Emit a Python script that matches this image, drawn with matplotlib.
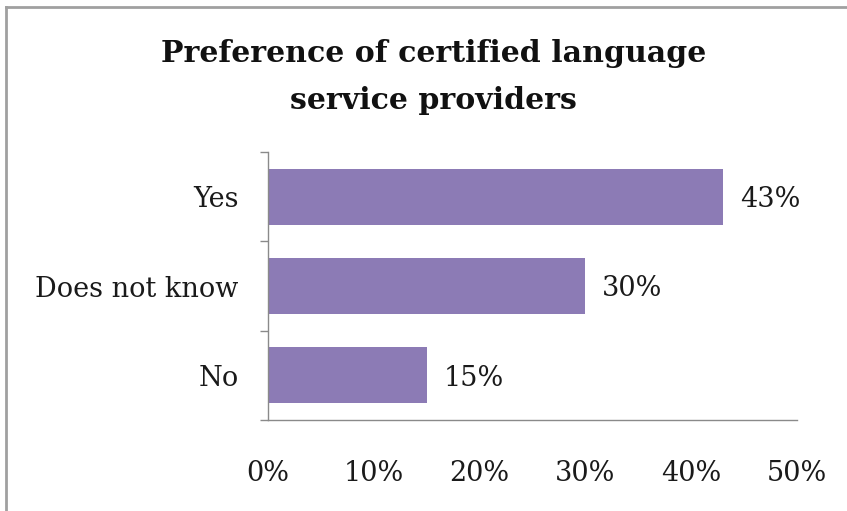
import matplotlib
matplotlib.use("Agg")
import matplotlib.pyplot as plt
from matplotlib.lines import Line2D

# Survey answers and their shares (percent)
categories = ["Yes", "Does not know", "No"]
shares = [43, 30, 15]
x_ticks = [0, 10, 20, 30, 40, 50]
x_tick_labels = ["0%", "10%", "20%", "30%", "40%", "50%"]
title = "Preference of certified language\nservice providers"

bar_color = "#8C7BB5"
axis_color = "#8a8a8a"
font = "DejaVu Serif"

fig = plt.figure(figsize=(8.47, 5.11), dpi=100)
fig.patch.set_facecolor("white")

# chart frame (top and left edges visible)
fig.add_artist(Line2D([6 / 847, 1.0], [1 - 7 / 511, 1 - 7 / 511],
                      transform=fig.transFigure, color="#a0a0a0", lw=2))
fig.add_artist(Line2D([6 / 847, 6 / 847], [0.0, 1 - 7 / 511],
                      transform=fig.transFigure, color="#a0a0a0", lw=2))

ax = fig.add_axes([268 / 847, 1 - 420 / 511, (797 - 268) / 847, (420 - 152) / 511])

ypos = list(range(len(categories)))[::-1]
ax.barh(ypos, shares, height=0.63, color=bar_color, zorder=2)

for y, v in zip(ypos, shares):
    ax.text(v + 1.6, y - 0.03, f"{v}%", va="center", ha="left",
            fontsize=19.5, family=font, color="#1a1a1a")

ax.set_xlim(0, 50)
ax.set_ylim(-0.5, len(categories) - 0.5)

ax.set_xticks(x_ticks)
ax.set_xticklabels(x_tick_labels, fontsize=19.5, family=font, color="#1a1a1a")
ax.set_yticks(ypos)
ax.set_yticklabels(categories, fontsize=19.5, family=font, color="#1a1a1a")
ax.tick_params(axis="y", length=0, pad=21)
ax.tick_params(axis="x", length=0, pad=29)

# boundary ticks between categories
ax.set_yticks([-0.5, 0.5, 1.5, 2.5], minor=True)
ax.tick_params(axis="y", which="minor", length=6, color=axis_color, width=1)
ax.set_xticks(x_ticks, minor=True)
ax.tick_params(axis="x", which="minor", length=12, color=axis_color, width=1)

for side in ("top", "right"):
    ax.spines[side].set_visible(False)
for side in ("left", "bottom"):
    ax.spines[side].set_color(axis_color)
    ax.spines[side].set_linewidth(1)

fig.text(0.512, 1 - 39 / 511, title, ha="center", va="top", fontsize=21.6,
         fontweight="bold", family=font, color="#111111", linespacing=1.78)

fig.savefig("out.png", dpi=100)
